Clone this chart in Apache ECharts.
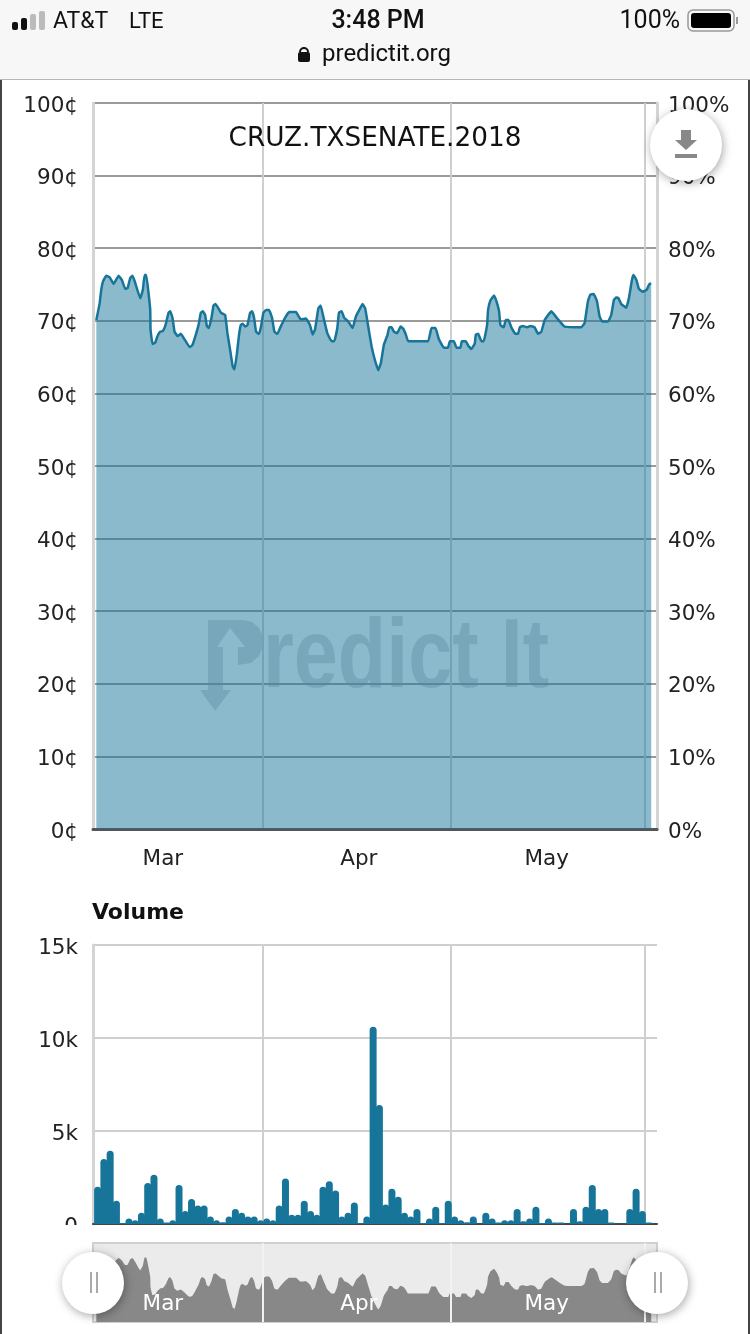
<!DOCTYPE html>
<html>
<head>
<meta charset="utf-8">
<style>html,body{margin:0;padding:0;background:#fff}#c{width:750px;height:1334px}</style>
<script src="https://cdn.jsdelivr.net/npm/echarts@6/dist/echarts.min.js"></script>
</head>
<body>
<div id="c"></div>
<script>
// Days are counted from 1 March 2018 = day 0.
var priceDays = [4.37,4.9,5.16,5.43,5.96,6.49,7.13,7.93,8.46,8.99,9.36,9.79,10.16,10.59,11.38,11.81,12.08,12.34,12.71,12.98,13.03,13.35,13.78,14.15,14.57,15,15.42,15.9,16.17,16.54,16.86,17.34,17.87,18.56,19.25,19.68,20.16,20.69,21.06,21.38,21.75,22.02,22.34,22.81,23.08,23.4,23.88,24.3,24.94,25.31,25.74,26.16,26.43,26.8,27.17,27.44,27.76,28.13,28.5,28.93,29.25,29.57,29.88,30.36,30.68,31.05,31.48,31.96,32.44,32.81,33.29,33.82,34.51,35.15,36.26,37.01,37.86,38.5,38.92,39.3,39.83,40.2,40.62,41.26,41.95,42.38,42.86,43.12,43.55,43.97,44.61,45.3,45.83,46.37,46.9,47.32,47.8,48.33,48.86,49.4,49.82,50.3,50.89,51.15,51.53,51.9,52.43,52.96,53.39,53.81,54.18,57.37,57.9,58.54,59.07,59.87,60.56,60.83,61.47,61.89,62.53,62.74,63.38,63.75,64.28,64.82,64.98,65.35,65.88,66.25,66.78,66.94,67.31,67.9,68.27,68.7,68.91,69.44,69.76,70.19,70.66,71.3,71.73,72,72.52,73.16,73.7,74.38,74.92,75.45,75.98,77.04,78.11,79.17,81.83,82.36,82.89,83.26,83.8,84.33,84.75,85.18,86.08,86.61,87.04,87.41,87.78,88.21,89,89.43,89.91,90.17,90.6,91.03,91.66,92.3,92.73,93];
var priceValues = [70.1,72.4,74.3,75.4,76.2,76,75.1,76.2,75.6,74.4,74.5,75.9,76.2,75.2,73.1,74.3,76.3,76.3,73.8,71.5,68.8,66.8,67,67.9,68.5,68.6,69.4,71.1,71.3,70.4,68.5,67.9,68.2,67.3,66.4,66.6,67.8,69.4,71.1,71.3,70.8,69.3,69,70.6,72.1,72.3,71.7,71.1,70.8,68.3,66,63.7,63.3,65.3,68.1,69.4,69.6,69.2,69.4,71.1,71.3,70.4,68.5,68.2,69.2,71.1,71.5,71.5,70.4,68.5,68.2,69.2,70.4,71.2,71.2,70.2,70.3,69.4,68.1,68.8,71.7,72.1,70.6,68.3,67.2,67.2,69,71.1,71.3,70.4,69.9,69,70.6,71.5,72.3,71.7,69.2,66.5,64.6,63.2,64.2,66.7,68.1,69.1,69.1,68.5,68.3,69.2,68.9,68.1,67.2,67.2,69,69,67.5,66.3,66.3,67.2,67.2,66.3,66.3,67.2,67.2,66.6,66.1,66.9,68.1,68.2,67.2,67.2,69.4,71.5,72.8,73.5,72.7,71.3,69.4,69.1,70.1,70.1,69.1,68.2,68.2,69.1,69.3,69.1,69.3,69.1,68.2,68.5,70.1,71.3,70.2,69.2,69.1,69.7,72.7,73.6,73.7,72.7,70.6,69.9,69.9,70.8,72.9,73.2,73.1,72.3,71.8,73.1,75.6,76.3,75.7,74.4,74,74.3,75.1,75.1];
var volumeFirstDay = 4.58;
var volumeValues = [2.0,3.5,3.94,1.25,0.05,0.3,0.2,0.6,2.2,2.65,0.3,0.08,0.2,2.1,0.7,1.35,1.0,1.0,0.4,0.2,0.1,0.4,0.8,0.6,0.4,0.4,0.2,0.3,0.2,1.0,2.45,0.5,0.5,1.25,0.7,0.5,2.0,2.3,1.8,0.4,0.6,1.15,0.05,0.4,10.6,6.4,1.05,1.9,1.47,0.6,0.4,0.8,0.05,0.3,0.93,0.05,1.25,0.4,0.2,0.1,0.4,0.02,0.6,0.3,0.08,0.2,0.2,0.8,0.15,0.3,0.93,0.05,0.3,0.08,0.08,0.02,0.8,0.15,0.93,2.1,0.8,0.8,0.08,0.02,0.02,0.8,1.9,0.7,0.08,0.02];
var monthStarts = [31,61,92];
var monthLabelDays = [15,46.3,76.3];
var monthLabels = ['Mar','Apr','May'];

var FONT = '"DejaVu Sans", sans-serif';
var UI = 'Roboto, "Noto Sans", sans-serif';
var LINE = '#17759a';
var MARK = '#d9d7dc';
var xMin = 3.84, xMax = 93.92;

var priceData = priceDays.map(function (d, i) { return [d, priceValues[i]]; });
var volumeData = volumeValues.map(function (v, i) { return [volumeFirstDay + i, v]; });

function monthName(v) { return monthLabels[monthLabelDays.indexOf(v)] || ''; }
function xAxis(gridIndex, showLabels, extra) {
  var a = {
    type: 'value', gridIndex: gridIndex, min: xMin, max: xMax,
    axisTick: { show: false, customValues: monthStarts },
    splitLine: { show: true, customValues: monthStarts, lineStyle: { color: '#cfcfcf', width: 2 } },
    axisLine: { show: true, onZero: false, lineStyle: { color: '#555', width: 3 } },
    axisLabel: {
      show: showLabels, customValues: monthLabelDays, formatter: monthName,
      color: '#222', fontFamily: FONT, fontSize: 21.5, margin: 19, hideOverlap: false,
      showMinLabel: true, showMaxLabel: true
    }
  };
  return Object.assign(a, extra || {});
}
function yAxis(gridIndex, min, max, interval, fmt, pos, lineColor, margin) {
  return {
    type: 'value', gridIndex: gridIndex, min: min, max: max, interval: interval, position: pos,
    axisTick: { show: false },
    axisLine: { show: true, lineStyle: { color: '#d4d4d4', width: 3 } },
    splitLine: { show: true, lineStyle: { color: lineColor, width: 2 } },
    axisLabel: {
      margin: margin,
      formatter: function (v) { return '{a|' + fmt(v) + '}'; },
      rich: { a: { color: '#222', fontFamily: FONT, fontSize: 21.5, padding: [6, 0, 0, 0] } }
    }
  };
}
function cents(v) { return v + '¢'; }
function percent(v) { return v + '%'; }
function thousands(v) { return v === 0 ? '0' : v + 'k'; }
function statusText(x, y, text, size, weight, align) {
  return { type: 'text', x: x, y: y, z: 60,
    style: { text: text, fill: '#111', font: (weight || 'normal') + ' ' + size + 'px ' + UI, textAlign: align || 'left', textVerticalAlign: 'middle' } };
}
function handle(cx) {
  return [
    { type: 'circle', z: 70, shape: { cx: cx, cy: 1283, r: 31 }, style: { fill: '#fff', shadowBlur: 10, shadowColor: 'rgba(0,0,0,0.35)', shadowOffsetX: 1, shadowOffsetY: 2 } },
    { type: 'rect', z: 71, shape: { x: cx - 3, y: 1272, width: 2, height: 21 }, style: { fill: '#aaa' } },
    { type: 'rect', z: 71, shape: { x: cx + 3, y: 1272, width: 2, height: 21 }, style: { fill: '#aaa' } }
  ];
}

var chart = echarts.init(document.getElementById('c'), null, { renderer: 'canvas' });
chart.setOption({
  animation: false,
  backgroundColor: '#fff',
  grid: [
    { left: 93, width: 564, top: 103, height: 726 },
    { left: 93, width: 564, top: 945, height: 279 },
    { left: 93, width: 564, top: 1243, height: 79, show: true, backgroundColor: '#ebebeb', borderColor: '#d0d0d0', borderWidth: 2 }
  ],
  xAxis: [
    xAxis(0, true),
    xAxis(1, false, { axisLine: { show: true, onZero: false, lineStyle: { color: '#444', width: 2 } } }),
    xAxis(2, true, { axisLine: { show: false }, z: 5,
      splitLine: { show: false },
      axisLabel: { show: true, inside: true, customValues: monthLabelDays, formatter: monthName, color: '#fff', fontFamily: FONT, fontSize: 21.5, margin: 7, hideOverlap: false } })
  ],
  yAxis: [
    yAxis(0, 0, 100, 10, cents, 'left', '#9a9a9a', 15),
    yAxis(0, 0, 100, 10, percent, 'right', '#9a9a9a', 11),
    yAxis(1, 0, 15, 5, thousands, 'left', '#cfcfcf', 15),
    { type: 'value', gridIndex: 2, min: 60, max: 80, show: false }
  ],
  series: [
    { type: 'line', name: 'Price', xAxisIndex: 0, yAxisIndex: 0, data: priceData, showSymbol: false, smooth: 0.1,
      lineStyle: { color: LINE, width: 2.5 }, areaStyle: { color: '#17759a', opacity: 0.5 }, z: 3 },
    { type: 'bar', name: 'Volume', xAxisIndex: 1, yAxisIndex: 2, data: volumeData, barWidth: 7,
      itemStyle: { color: LINE, borderRadius: [3.5, 3.5, 0, 0] }, z: 3 },
    { type: 'line', name: 'Navigator', xAxisIndex: 2, yAxisIndex: 3, data: priceData, showSymbol: false, smooth: 0.1,
      lineStyle: { width: 0 }, areaStyle: { color: '#888', opacity: 1 }, z: 3,
      markLine: { silent: true, symbol: 'none', label: { show: false }, lineStyle: { color: '#f2f2f2', width: 2, type: 'solid' },
        data: monthStarts.map(function (m) { return { xAxis: m }; }) } }
  ],
  graphic: [
    { type: 'polygon', z: -1, shape: { points: [[208, 620], [243, 620], [252, 622], [259, 628], [263, 637], [263, 647], [259, 656], [251, 663], [238, 665], [238, 647], [245, 647], [230, 628], [217, 647], [223, 647], [223, 690], [208, 690]] }, style: { fill: MARK } },
    { type: 'polygon', z: -1, shape: { points: [[200, 690], [231, 690], [215, 711]] }, style: { fill: MARK } },
    { type: 'text', z: -1, x: 263, y: 660, scaleX: 0.8, style: { text: 'redict It', fill: MARK, font: 'bold 99px "Liberation Sans", sans-serif', textVerticalAlign: 'middle' } },
    { type: 'rect', z: 30, shape: { x: 40, y: 1225, width: 50, height: 14 }, style: { fill: '#fff' } },
    { type: 'rect', z: 50, shape: { x: 0, y: 0, width: 750, height: 79 }, style: { fill: '#f7f7f7' } },
    { type: 'rect', z: 50, shape: { x: 0, y: 79, width: 750, height: 1 }, style: { fill: '#b5b5b5' } },
    { type: 'rect', z: 50, shape: { x: 0, y: 80, width: 2, height: 1254 }, style: { fill: '#444' } },
    { type: 'rect', z: 50, shape: { x: 748, y: 80, width: 2, height: 1254 }, style: { fill: '#444' } },
    { type: 'rect', z: 60, shape: { x: 12, y: 22, width: 6, height: 8, r: 2 }, style: { fill: '#111' } },
    { type: 'rect', z: 60, shape: { x: 21, y: 18, width: 6, height: 12, r: 2 }, style: { fill: '#111' } },
    { type: 'rect', z: 60, shape: { x: 30, y: 14, width: 6, height: 16, r: 2 }, style: { fill: '#bbb' } },
    { type: 'rect', z: 60, shape: { x: 39, y: 11, width: 6, height: 19, r: 2 }, style: { fill: '#bbb' } },
    statusText(53, 22, 'AT&T', 23),
    statusText(129, 22, 'LTE', 22),
    statusText(378, 22, '3:48 PM', 25, '500', 'center'),
    statusText(680, 22, '100%', 25, 'normal', 'right'),
    { type: 'rect', z: 60, shape: { x: 688, y: 10, width: 46, height: 21, r: 5 }, style: { fill: 'none', stroke: '#999', lineWidth: 1.5 } },
    { type: 'rect', z: 60, shape: { x: 691, y: 13, width: 40, height: 15, r: 3 }, style: { fill: '#000' } },
    { type: 'rect', z: 60, shape: { x: 736, y: 17, width: 2, height: 7 }, style: { fill: '#999' } },
    statusText(322, 55, 'predictit.org', 24),
    { type: 'rect', z: 60, shape: { x: 298, y: 52, width: 12, height: 10, r: 2 }, style: { fill: '#111' } },
    { type: 'arc', z: 60, shape: { cx: 304, cy: 52, r: 4, startAngle: Math.PI, endAngle: 0 }, style: { fill: 'none', stroke: '#111', lineWidth: 2 } },
    { type: 'text', z: 20, x: 375, y: 139, style: { text: 'CRUZ.TXSENATE.2018', fill: '#111', font: '26.3px ' + FONT, textAlign: 'center', textVerticalAlign: 'middle' } },
    { type: 'text', z: 20, x: 92, y: 913, style: { text: 'Volume', fill: '#111', font: 'bold 22px ' + FONT, textVerticalAlign: 'middle' } },
    { type: 'circle', z: 40, shape: { cx: 686, cy: 145, r: 36 }, style: { fill: '#fff', shadowBlur: 10, shadowColor: 'rgba(0,0,0,0.35)', shadowOffsetX: 1, shadowOffsetY: 2 } },
    { type: 'polygon', z: 41, shape: { points: [[681, 130], [691, 130], [691, 140], [697, 140], [686, 150], [675, 140], [681, 140]] }, style: { fill: '#888' } },
    { type: 'rect', z: 41, shape: { x: 675, y: 154, width: 22, height: 4 }, style: { fill: '#888' } }
  ].concat(handle(93), handle(657))
});
</script>
</body>
</html>
